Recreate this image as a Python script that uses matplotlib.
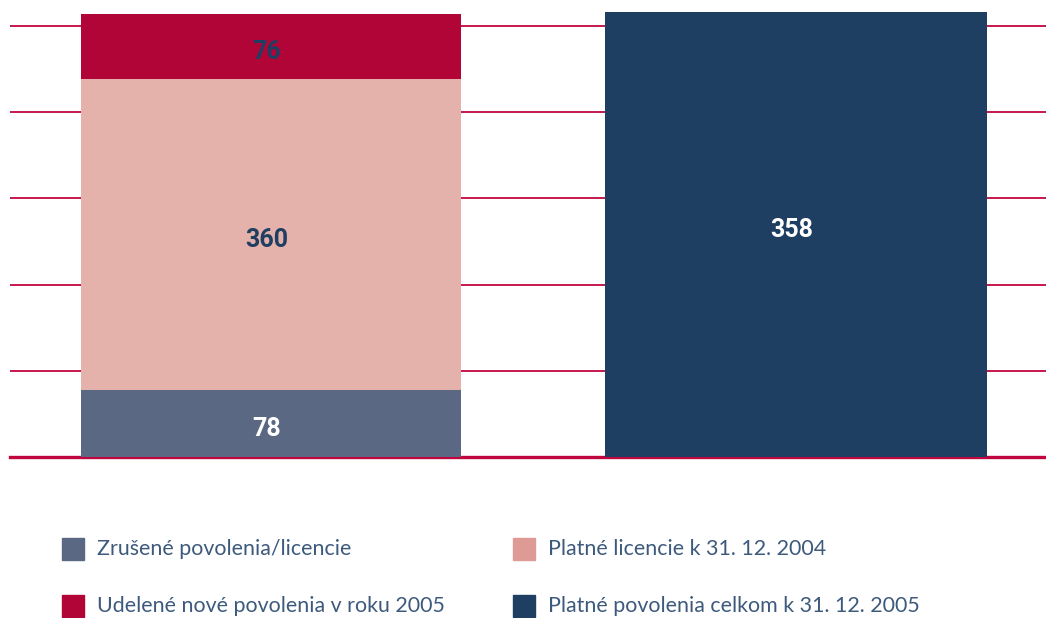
import matplotlib.pyplot as plt
from matplotlib.patches import Rectangle

# values
zrusene = [78]          # bottom segment, left bar
platne_2004 = [360]     # middle segment, left bar
udelene = [76]          # top segment, left bar
celkom_label = [358]    # label on the right bar
celkom_height = [516]   # right bar is drawn to about the full left-bar height

legend_labels = ['Zrušené povolenia/licencie',
                 'Udelené nové povolenia v roku 2005',
                 'Platné licencie k 31. 12. 2004',
                 'Platné povolenia celkom k 31. 12. 2005']

c_slate = '#5b6883'
c_pink = '#e4b2ab'
c_pink_leg = '#de9b96'
c_red = '#b10537'
c_navy = '#1e3f62'
c_grid = '#c0063f'
c_text = '#3d5a7d'

fig = plt.figure(figsize=(10.46, 6.18), dpi=100)
ax = fig.add_axes([10 / 1046, 1 - 457 / 618, 1036 / 1046, 457 / 618])
ax.set_xlim(-0.497, 1.476)
ax.set_ylim(0, 530)
ax.axis('off')

for g in range(100, 600, 100):
    ax.axhline(g, color=c_grid, lw=1.3, zorder=0)
ax.axhline(0, color=c_grid, lw=2.4, zorder=0, clip_on=False)

w = 0.722
b1 = ax.bar([0], zrusene, w, color=c_slate, zorder=2)
b2 = ax.bar([0], platne_2004, w, bottom=zrusene, color=c_pink, zorder=2)
bot3 = [zrusene[0] + platne_2004[0]]
b3 = ax.bar([0], udelene, w, bottom=bot3, color=c_red, zorder=2)
b4 = ax.bar([1], celkom_height, w * 380 / 378, color=c_navy, zorder=2, clip_on=False)

fkw = dict(family='Roboto', fontweight='bold', fontsize=18, ha='center',
           va='center_baseline', zorder=3)
dx, dy = -0.008, -3.5
ax.text(dx, zrusene[0] / 2 + dy, str(zrusene[0]), color='white', **fkw)
ax.text(dx, zrusene[0] + platne_2004[0] / 2 + dy, str(platne_2004[0]), color=c_navy, **fkw)
ax.text(dx, bot3[0] + udelene[0] / 2 + dy, str(udelene[0]), color=c_navy, **fkw)
ax.text(1 + dx, 266.5, str(celkom_label[0]), color='white', **fkw)

# legend drawn by hand (2 x 2)
leg_colors = [c_slate, c_red, c_pink_leg, c_navy]
leg_pos = [(62, 549), (62, 606), (513, 549), (513, 606)]
for lab, col, (px, py) in zip(legend_labels, leg_colors, leg_pos):
    fig.add_artist(Rectangle((px / 1046, 1 - (py + 11) / 618), 22 / 1046, 22 / 618,
                             transform=fig.transFigure, color=col))
    fig.text((px + 35) / 1046, 1 - py / 618, lab, family='Lato', fontsize=15.4,
             color=c_text, va='center', ha='left')

fig.savefig('out.png', dpi=100)
